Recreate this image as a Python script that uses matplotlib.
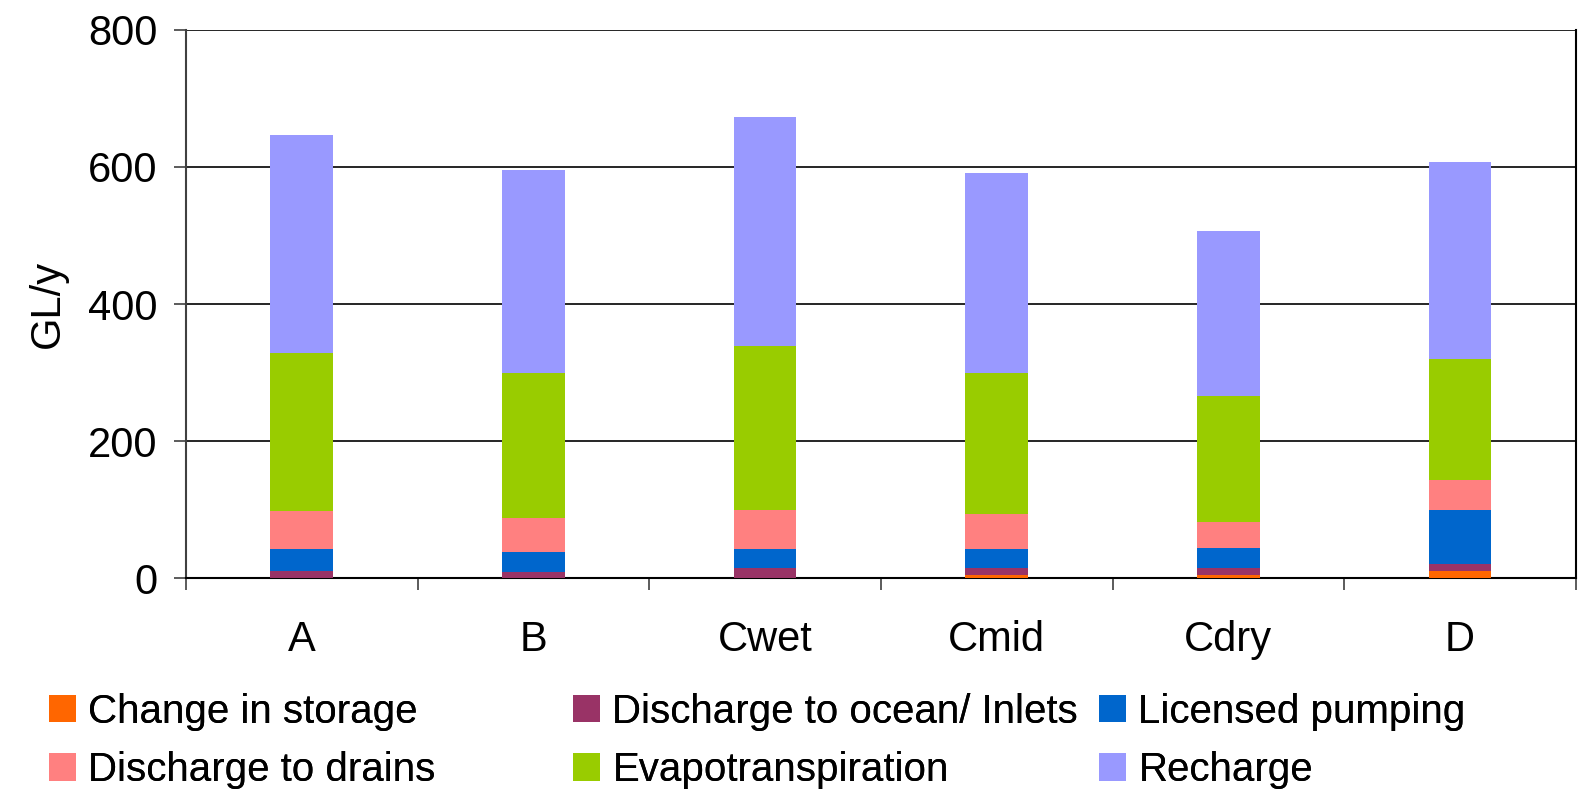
import numpy as np
import matplotlib.pyplot as plt
from matplotlib.ticker import MultipleLocator

plt.rcParams['font.family'] = ['Liberation Sans', 'DejaVu Sans']

scenarios = ['A', 'B', 'Cwet', 'Cmid', 'Cdry', 'D']
storage = [0, 0, 0, 4, 4, 10]
ocean = [10, 9, 15, 11, 11, 10]
pumping = [32, 29, 27, 27, 29, 80]
drains = [56, 50, 58, 52, 38, 43]
evapo = [230, 212, 238, 206, 183, 176]
recharge = [319, 296, 335, 291, 241, 288]

series = [
    ('Change in storage', storage, '#FF6600'),
    ('Discharge to ocean/ Inlets', ocean, '#993366'),
    ('Licensed pumping', pumping, '#0066CC'),
    ('Discharge to drains', drains, '#FF8080'),
    ('Evapotranspiration', evapo, '#99CC00'),
    ('Recharge', recharge, '#9999FF'),
]

fig = plt.figure(figsize=(15.81, 7.89), dpi=100)
ax = fig.add_axes([0.1176, 0.2674, 0.8792, 0.6946])

x = np.arange(len(scenarios))
bottom = np.zeros(len(scenarios))
handles = {}
for name, vals, col in series:
    vals = np.array(vals, dtype=float)
    b = ax.bar(x, vals, 0.27, bottom=bottom, color=col, label=name, zorder=3)
    handles[name] = b
    bottom += vals

ax.set_xlim(-0.5, len(scenarios) - 0.5)
ax.set_ylim(0, 800)
ax.yaxis.set_major_locator(MultipleLocator(200))
ax.grid(axis='y', color='black', linewidth=1.2, zorder=0)
ax.set_axisbelow(True)

ax.set_xticks(x)
ax.set_xticklabels(scenarios)
ax.set_xticks(np.arange(-0.5, len(scenarios)), minor=True)
ax.tick_params(axis='x', which='major', length=0, labelsize=30, pad=30)
ax.tick_params(axis='x', which='minor', length=8.6, width=1.2, color='#404040')
ax.tick_params(axis='y', length=8.6, width=1.2, color='#404040', labelsize=30, pad=12)

ax.spines['top'].set_visible(False)
ax.spines['left'].set_color('#404040')
ax.spines['left'].set_linewidth(1.5)
ax.spines['bottom'].set_color('black')
ax.spines['bottom'].set_linewidth(1.5)
ax.spines['right'].set_color('black')
ax.spines['right'].set_linewidth(1.5)

ax.set_ylabel('GL/y', fontsize=30, labelpad=14)

columns = [
    (0.0307, ['Change in storage', 'Discharge to drains']),
    (0.3624, ['Discharge to ocean/ Inlets', 'Evapotranspiration']),
    (0.6951, ['Licensed pumping', 'Recharge']),
]
for xpos, names in columns:
    leg = fig.legend([handles[n] for n in names], names, loc='upper left',
                     bbox_to_anchor=(xpos, 0.122), frameon=False, fontsize=29,
                     handlelength=0.68, handleheight=0.68, handletextpad=0.3,
                     labelspacing=0.5, borderpad=0, borderaxespad=0)
    fig.add_artist(leg)

fig.savefig('out.png', dpi=100)
